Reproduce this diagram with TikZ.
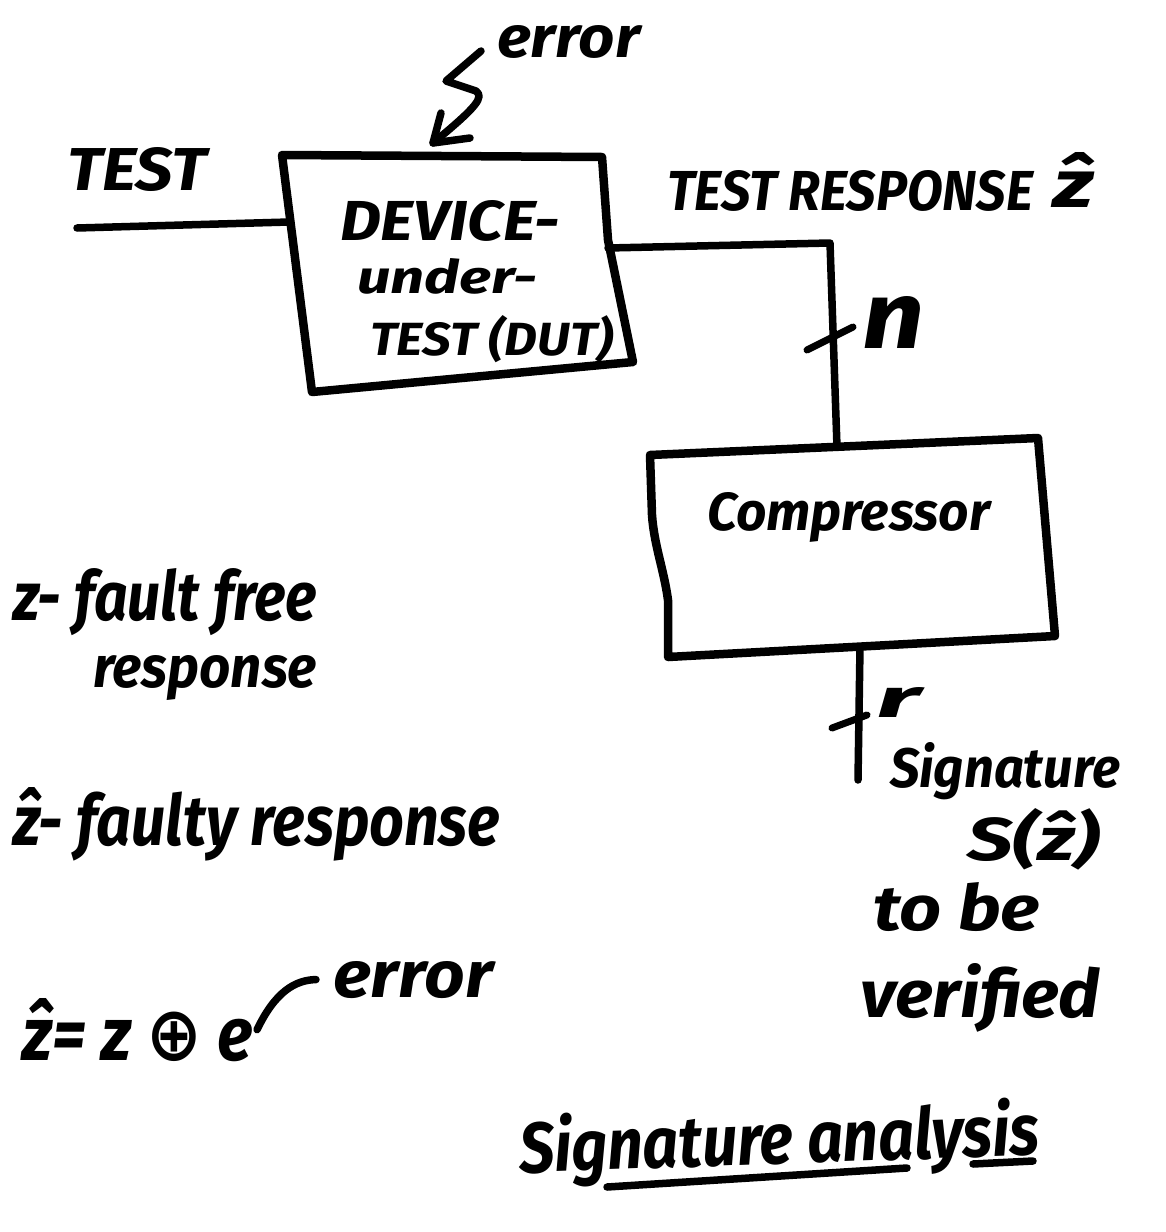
\documentclass[tikz,border=0pt]{standalone}
\usepackage{fontspec}
\usepackage{graphicx}
\setmainfont{Fira Sans}
\newfontfamily\symfont{DejaVu Sans}

% set a text to a given width and height above the baseline (in pt)
\newcommand{\fit}[3]{\resizebox{#1pt}{#2pt}{#3}}
% z with a circumflex, built from z and the combining accent
\newcommand{\zh}{z^^^^0302}

\tikzset{
  hand/.style={inner sep=0pt, outer sep=0pt, anchor=base west, font=\bfseries\itshape},
  boxline/.style={line width=8.5pt, line join=round, line cap=round},
  wire/.style={line width=7.5pt, line join=round, line cap=round},
  tick/.style={line width=7pt, line cap=round},
}

\begin{document}
\begin{tikzpicture}[x=1pt,y=-1pt]
\useasboundingbox (0,0) rectangle (1166,1232);
\fill[white] (0,0) rectangle (1166,1232);

% ---- device under test -------------------------------------------
\coordinate (dA) at (282,155);
\coordinate (dB) at (602,157);
\coordinate (dR) at (608,240);
\coordinate (dC) at (633,362);
\coordinate (dD) at (312,392);
\draw[boxline] (dA) -- (dB) -- (dR) -- (dC) -- (dD) -- cycle;
\node[hand] (dut1) at (340,240) {\fit{220}{40}{DEVICE-}};
\node[hand] (dut2) at (357,293) {\fit{180}{35}{under-}};
\node[hand] (dut3) at (370,355) {\fit{243}{40}{TEST (DUT)}};
\coordinate (dutin)  at (289,222);
\coordinate (dutout) at (608,248);

% ---- compressor --------------------------------------------------
\coordinate (cA) at (650,455);
\coordinate (cB) at (1038,438);
\coordinate (cC) at (1055,636);
\coordinate (cD) at (668,657);
\draw[boxline] (cA) -- (cB) -- (cC) -- (cD) -- (668,600)
  .. controls (664,570) and (654,545) .. (652,515) -- cycle;
\node[hand] (cmp) at (707,530) {\fit{283}{38}{Compressor}};
\coordinate (cmpin)  at (837,447);
\coordinate (cmpout) at (860,647);

% ---- error injection ---------------------------------------------
\node[hand] (err1) at (497,57) {\fit{143}{32}{error}};
\coordinate (errtip) at (433,143);
\draw[wire] ([shift={(-16,-7)}]err1.south west) -- (446,81) -- (476,91)
  .. controls (484,97) and (478,106) .. (errtip);
\draw[wire] (441,113) -- (errtip) -- (470,138);

% ---- test input --------------------------------------------------
\node[hand] (test) at (67,190) {\fit{140}{43}{TEST}};
\coordinate (in) at (77,228);
\draw[wire] (in) -- (dutin);

% ---- test response to compressor ---------------------------------
\node[hand] (resp) at (667,210) {\fit{366}{40}{TEST RESPONSE}};
\node[hand] (resphat) at (1053,207) {\fit{40}{55}{\zh}};
\draw[wire] (dutout) -- (830,243) -- (cmpin);
\draw[tick] (807,350) -- (853,327);
\node[hand] (nlab) at (862,348) {\fit{62}{52}{n}};

% ---- signature output --------------------------------------------
\coordinate (out) at (858,780);
\draw[wire] (cmpout) -- (out);
\draw[tick] (832,728) -- (867,715);
\node[hand] (rlab) at (876,717) {\fit{44}{30}{r}};
\node[hand] (sig1) at (890,787) {\fit{230}{45}{Signature}};
\node[hand] (sig2) at (967,860) {\fit{133}{52}{S(\zh)}};
\node[hand] (sig3) at (873,930) {\fit{167}{48}{to be}};
\node[hand] (sig4) at (860,1017) {\fit{240}{54}{verified}};

% ---- legend ------------------------------------------------------
\node[hand] (leg1) at (13,620) {\fit{304}{52}{z- fault free}};
\node[hand] (leg2) at (93,687) {\fit{224}{32}{response}};
\node[hand] (leg3) at (13,845) {\fit{487}{58}{\zh- faulty response}};
\node[hand] (eq) at (23,1060) {\fit{230}{62}{\zh= z {\symfont\bfseries ⊕} e}};
\node[hand] (err2) at (333,997) {\fit{160}{36}{error}};
\draw[wire] ([xshift=4]eq.east) .. controls (275,992) and (295,980) .. ([xshift=-17]err2.west);

% ---- title -------------------------------------------------------
\node[hand, rotate=2] (title) at (520,1173) {\fit{520}{58}{Signature analysis}};
\draw[wire] (607,1187) -- (907,1168);
\draw[wire] (973,1164) -- (1033,1161);
\end{tikzpicture}
\end{document}
